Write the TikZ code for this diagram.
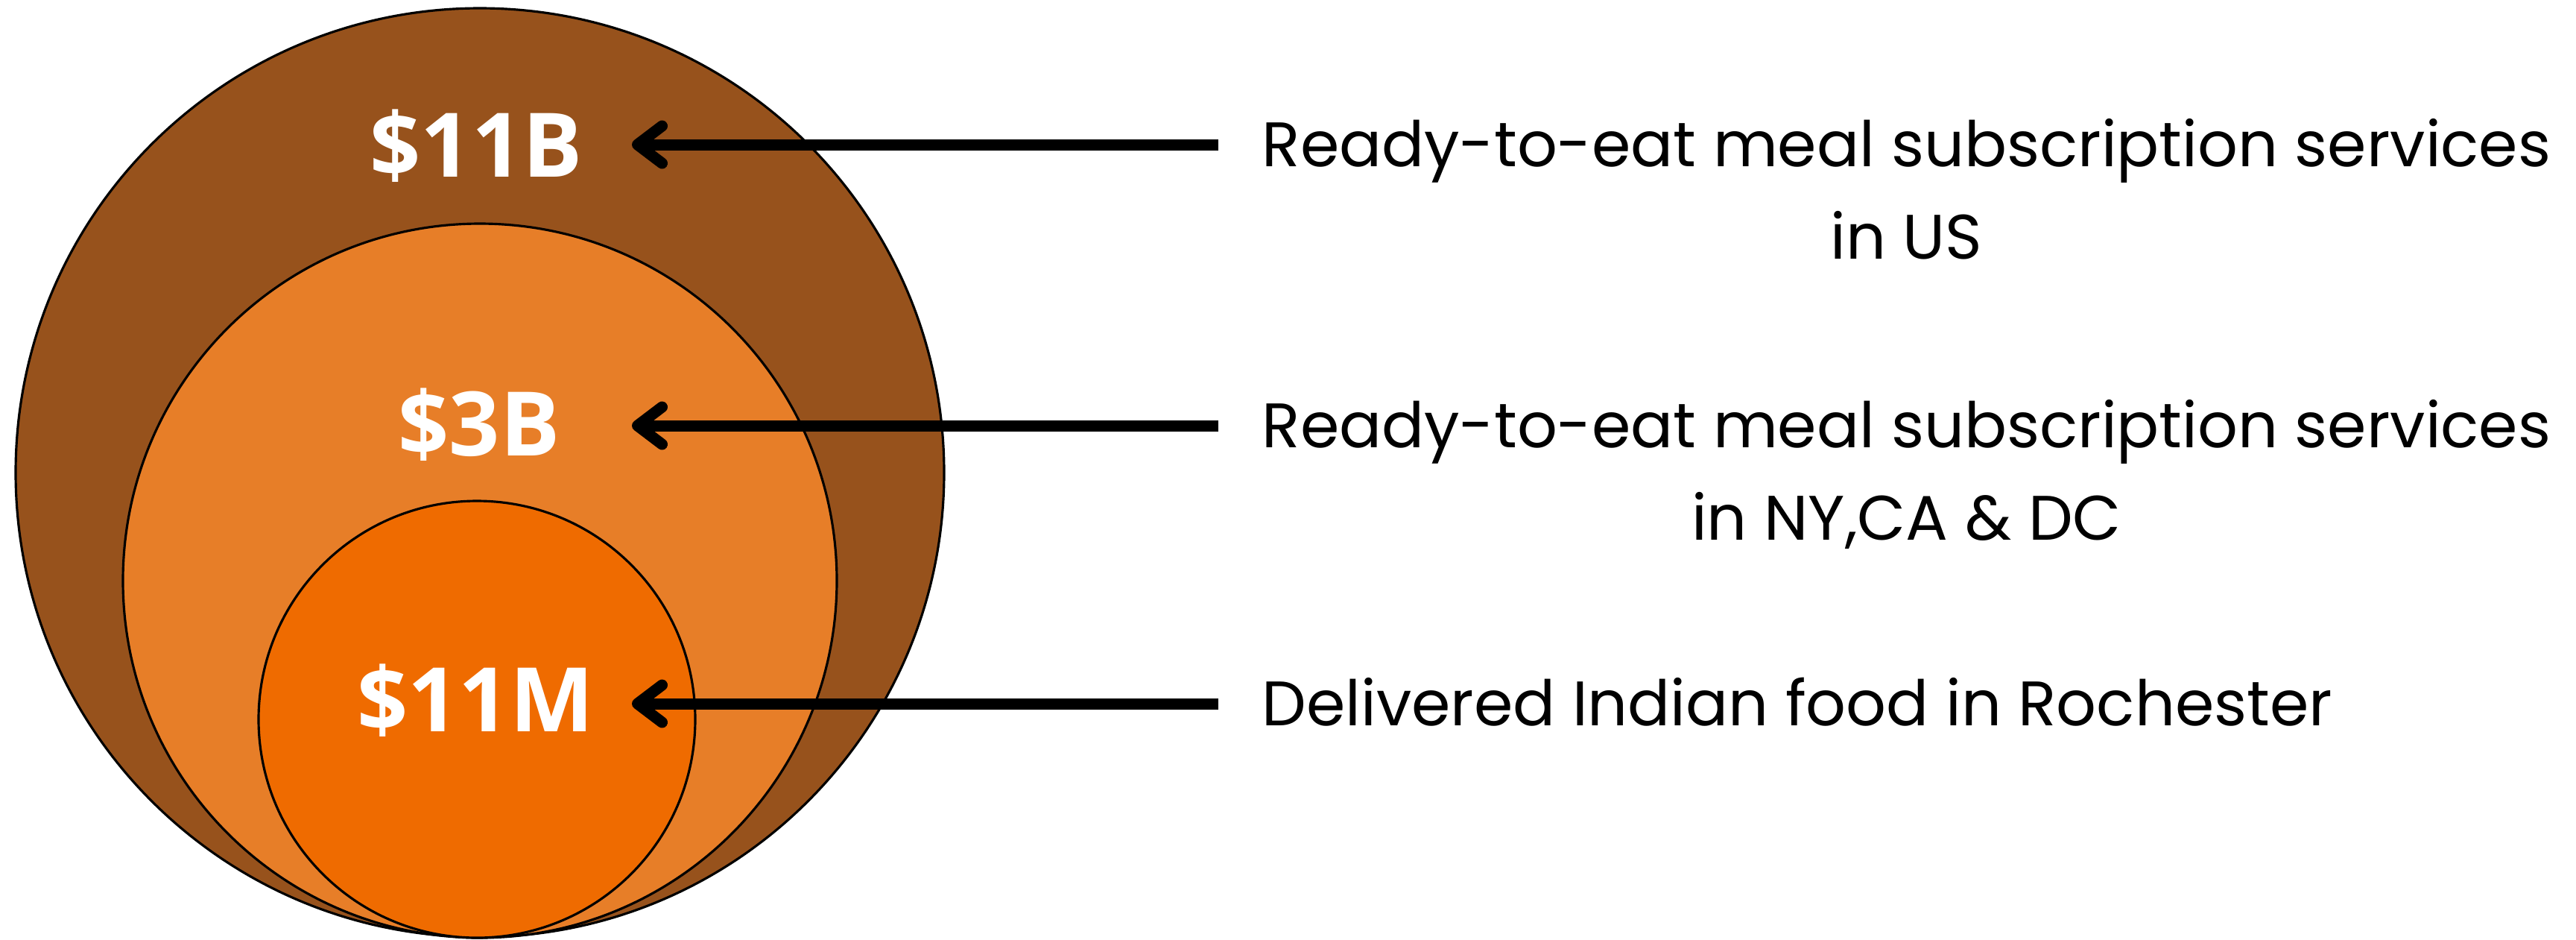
\documentclass[tikz,border=0pt]{standalone}
\usepackage{fontspec}
\setmainfont{Poppins}
\newfontfamily\valuefont{Open Sans}
\usetikzlibrary{arrows.meta}
\definecolor{outerbrown}{RGB}{151,82,28}
\definecolor{midorange}{RGB}{231,126,40}
\definecolor{innerorange}{RGB}{239,107,0}
\tikzset{
  ring/.style={draw=black, line width=0.9pt},
  value/.style={text=white, font=\valuefont\bfseries\fontsize{34}{40}\selectfont, inner sep=0pt, anchor=base},
  desc/.style={align=center, font=\fontsize{24}{35.2}\selectfont, inner sep=0pt, anchor=base west},
  pointer/.style={line width=0.15cm, -{Straight Barb[length=0.33cm, width=0.5cm, round]}},
}
\begin{document}
\begin{tikzpicture}
  \useasboundingbox (0,0) rectangle (34.57,-12.60);
  % nested markets
  \filldraw[ring, fill=outerbrown] (6.44,-6.34) circle (6.23);
  \filldraw[ring, fill=midorange] (6.44,-7.79) circle (4.79);
  \filldraw[ring, fill=innerorange] (6.40,-9.65) circle (2.93);
  \node[value] (usvalue) at (6.39,-2.37) {\$11B};
  \node[value] (statevalue) at (6.43,-6.11) {\$3B};
  \node[value] (cityvalue) at (6.38,-9.81) {\$11M};
  % descriptions (base = last line)
  \node[desc] (usdesc) at (16.93,-3.47) {Ready-to-eat meal subscription services\\in US};
  \node[desc] (statedesc) at (16.93,-7.24) {Ready-to-eat meal subscription services\\in NY,CA \& DC};
  \node[desc] (citydesc) at (16.93,-9.73) {Delivered Indian food in Rochester};
  % pointers
  \coordinate (ustip) at (8.48,-1.94);
  \coordinate (ustail) at (16.35,-1.94);
  \coordinate (statetip) at (8.48,-5.71);
  \coordinate (statetail) at (16.35,-5.71);
  \coordinate (citytip) at (8.48,-9.44);
  \coordinate (citytail) at (16.35,-9.44);
  \draw[pointer] (ustail) -- (ustip);
  \draw[pointer] (statetail) -- (statetip);
  \draw[pointer] (citytail) -- (citytip);
\end{tikzpicture}
\end{document}
